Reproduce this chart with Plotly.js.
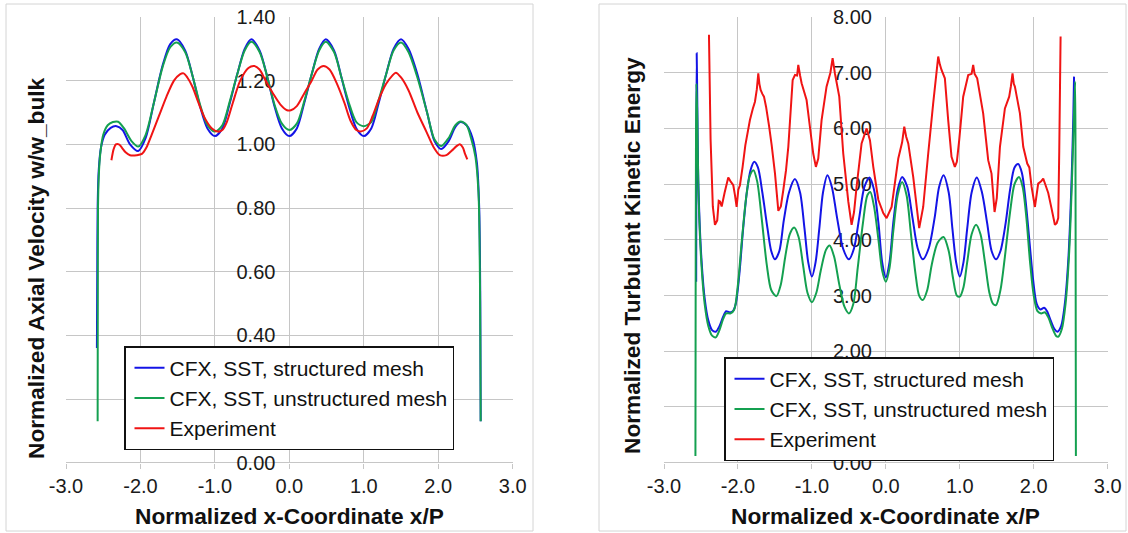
<!DOCTYPE html>
<html>
<head>
<meta charset="utf-8">
<script src="https://cdn.plot.ly/plotly-3.0.1.min.js"></script>
<style>
  html, body { margin: 0; padding: 0; background: #ffffff; }
  #chart { width: 1128px; height: 533px; }
</style>
</head>
<body>
<div id="chart"></div>
<script>
// ---------------- DATA ----------------
const seriesNames = ["CFX, SST, structured mesh", "CFX, SST, unstructured mesh", "Experiment"];

const xTickVals = [-3, -2, -1, 0, 1, 2, 3];
const xTickText = ["-3.0", "-2.0", "-1.0", "0.0", "1.0", "2.0", "3.0"];
// labels hidden behind the legend in the original are left blank
const velTickVals = [0, 0.2, 0.4, 0.6, 0.8, 1.0, 1.2, 1.4];
const velTickText = ["0.00", "", "0.40", "0.60", "0.80", "1.00", "1.20", "1.40"];
const tkeTickVals = [0, 1, 2, 3, 4, 5, 6, 7, 8];
const tkeTickText = ["0.00", "", "2.00", "3.00", "4.00", "5.00", "6.00", "7.00", "8.00"];

// Left chart: normalized axial velocity
const velStructX = [-2.585, -2.58, -2.575, -2.56, -2.53, -2.48, -2.40, -2.32, -2.24, -2.14, -2.03, -1.93, -1.82, -1.70, -1.60, -1.51, -1.40, -1.30, -1.20, -1.10, -1.00, -0.90, -0.80, -0.70, -0.60, -0.51, -0.40, -0.30, -0.20, -0.10, 0.00, 0.10, 0.20, 0.30, 0.40, 0.49, 0.60, 0.70, 0.80, 0.90, 1.00, 1.10, 1.20, 1.30, 1.40, 1.50, 1.60, 1.72, 1.85, 1.95, 2.04, 2.14, 2.23, 2.30, 2.38, 2.46, 2.52, 2.55, 2.565, 2.57];
const velStructY = [0.36, 0.60, 0.80, 0.92, 0.99, 1.03, 1.052, 1.057, 1.045, 1.00, 0.979, 1.02, 1.13, 1.25, 1.315, 1.33, 1.295, 1.215, 1.12, 1.05, 1.026, 1.05, 1.13, 1.22, 1.30, 1.33, 1.295, 1.215, 1.12, 1.05, 1.026, 1.05, 1.13, 1.22, 1.30, 1.33, 1.295, 1.21, 1.12, 1.05, 1.026, 1.05, 1.13, 1.22, 1.30, 1.33, 1.30, 1.22, 1.10, 1.01, 0.985, 1.01, 1.055, 1.07, 1.06, 1.02, 0.94, 0.80, 0.50, 0.13];

const velUnstrX = [-2.575, -2.573, -2.57, -2.56, -2.54, -2.50, -2.44, -2.37, -2.30, -2.22, -2.12, -2.03, -1.93, -1.82, -1.70, -1.60, -1.51, -1.40, -1.30, -1.20, -1.10, -1.00, -0.90, -0.80, -0.70, -0.60, -0.51, -0.40, -0.30, -0.20, -0.10, 0.00, 0.10, 0.20, 0.30, 0.40, 0.49, 0.60, 0.70, 0.80, 0.90, 1.00, 1.10, 1.20, 1.30, 1.40, 1.50, 1.60, 1.72, 1.85, 1.95, 2.04, 2.14, 2.23, 2.30, 2.38, 2.44, 2.50, 2.54, 2.555, 2.565, 2.57];
const velUnstrY = [0.13, 0.50, 0.80, 0.90, 0.97, 1.03, 1.06, 1.07, 1.071, 1.05, 1.01, 0.993, 1.03, 1.13, 1.245, 1.305, 1.32, 1.29, 1.215, 1.125, 1.06, 1.04, 1.06, 1.135, 1.22, 1.295, 1.322, 1.29, 1.215, 1.125, 1.065, 1.045, 1.065, 1.135, 1.22, 1.295, 1.322, 1.29, 1.21, 1.13, 1.07, 1.057, 1.07, 1.14, 1.22, 1.295, 1.32, 1.29, 1.21, 1.10, 1.015, 0.995, 1.02, 1.06, 1.072, 1.06, 1.02, 0.96, 0.85, 0.70, 0.40, 0.13];

const velExpX = [-2.39, -2.36, -2.33, -2.29, -2.25, -2.20, -2.14, -2.05, -1.98, -1.92, -1.85, -1.75, -1.65, -1.55, -1.47, -1.42, -1.37, -1.30, -1.22, -1.13, -1.04, -0.96, -0.90, -0.84, -0.76, -0.66, -0.55, -0.47, -0.40, -0.33, -0.22, -0.12, -0.03, 0.02, 0.10, 0.20, 0.30, 0.38, 0.46, 0.54, 0.64, 0.74, 0.82, 0.90, 0.96, 1.04, 1.12, 1.20, 1.30, 1.38, 1.43, 1.50, 1.60, 1.72, 1.84, 1.94, 2.02, 2.11, 2.18, 2.25, 2.29, 2.33, 2.36, 2.39];
const velExpY = [0.95, 0.985, 1.00, 1.00, 0.99, 0.975, 0.966, 0.966, 0.97, 0.99, 1.03, 1.09, 1.15, 1.20, 1.22, 1.223, 1.21, 1.18, 1.13, 1.08, 1.05, 1.04, 1.045, 1.07, 1.13, 1.20, 1.24, 1.246, 1.235, 1.205, 1.16, 1.125, 1.107, 1.107, 1.12, 1.16, 1.20, 1.235, 1.246, 1.235, 1.19, 1.13, 1.075, 1.045, 1.04, 1.05, 1.09, 1.14, 1.19, 1.215, 1.225, 1.21, 1.17, 1.10, 1.04, 0.99, 0.966, 0.966, 0.98, 0.995, 1.00, 0.99, 0.97, 0.953];

// Right chart: normalized turbulent kinetic energy
const tkeStructX = [-2.565, -2.562, -2.558, -2.55, -2.535, -2.50, -2.45, -2.40, -2.35, -2.30, -2.25, -2.20, -2.16, -2.12, -2.07, -2.03, -1.98, -1.93, -1.88, -1.83, -1.78, -1.73, -1.67, -1.60, -1.55, -1.50, -1.44, -1.38, -1.31, -1.23, -1.16, -1.10, -1.05, -1.00, -0.95, -0.90, -0.85, -0.79, -0.73, -0.66, -0.58, -0.50, -0.43, -0.36, -0.29, -0.22, -0.16, -0.10, -0.05, 0.00, 0.05, 0.10, 0.16, 0.22, 0.29, 0.36, 0.43, 0.50, 0.58, 0.66, 0.72, 0.78, 0.85, 0.90, 0.95, 1.00, 1.05, 1.10, 1.16, 1.23, 1.30, 1.37, 1.43, 1.49, 1.55, 1.62, 1.68, 1.74, 1.79, 1.84, 1.89, 1.94, 1.99, 2.04, 2.09, 2.14, 2.18, 2.23, 2.28, 2.32, 2.37, 2.42, 2.47, 2.51, 2.535, 2.545];
const tkeStructY = [3.25, 5.5, 7.35, 6.5, 5.0, 3.8, 2.95, 2.55, 2.38, 2.35, 2.45, 2.62, 2.72, 2.70, 2.72, 2.85, 3.4, 4.2, 4.85, 5.25, 5.40, 5.30, 4.85, 4.2, 3.8, 3.65, 3.8, 4.35, 4.85, 5.09, 4.85, 4.2, 3.6, 3.34, 3.6, 4.2, 4.85, 5.16, 4.95, 4.4, 3.85, 3.65, 3.85, 4.4, 4.95, 5.12, 4.9, 4.3, 3.6, 3.33, 3.6, 4.3, 4.9, 5.13, 4.95, 4.4, 3.85, 3.65, 3.85, 4.4, 4.95, 5.16, 4.85, 4.2, 3.6, 3.34, 3.6, 4.2, 4.85, 5.12, 4.85, 4.3, 3.8, 3.65, 3.8, 4.3, 4.9, 5.3, 5.36, 5.2, 4.7, 4.0, 3.3, 2.85, 2.75, 2.78, 2.72, 2.55, 2.40, 2.35, 2.45, 2.85, 3.7, 5.0, 6.2, 6.93];

const tkeUnstrX = [-2.575, -2.572, -2.568, -2.562, -2.55, -2.535, -2.50, -2.45, -2.40, -2.35, -2.30, -2.25, -2.20, -2.16, -2.10, -2.05, -2.00, -1.95, -1.89, -1.84, -1.79, -1.74, -1.68, -1.61, -1.55, -1.48, -1.42, -1.36, -1.30, -1.24, -1.18, -1.12, -1.06, -1.00, -0.94, -0.88, -0.81, -0.76, -0.70, -0.63, -0.56, -0.50, -0.44, -0.38, -0.31, -0.25, -0.21, -0.16, -0.10, -0.05, 0.00, 0.05, 0.10, 0.16, 0.22, 0.28, 0.34, 0.40, 0.45, 0.50, 0.56, 0.62, 0.70, 0.78, 0.85, 0.91, 0.96, 1.00, 1.05, 1.10, 1.16, 1.22, 1.28, 1.34, 1.40, 1.45, 1.49, 1.55, 1.61, 1.68, 1.74, 1.80, 1.85, 1.90, 1.95, 2.00, 2.05, 2.10, 2.15, 2.20, 2.25, 2.30, 2.33, 2.38, 2.43, 2.48, 2.52, 2.545, 2.56, 2.565, 2.568, 2.57];
const tkeUnstrY = [0.12, 3.0, 5.5, 6.8, 6.2, 4.9, 3.7, 2.85, 2.45, 2.28, 2.25, 2.38, 2.58, 2.68, 2.68, 2.75, 3.2, 3.95, 4.75, 5.15, 5.25, 5.05, 4.4, 3.55, 3.1, 2.99, 3.2, 3.7, 4.1, 4.22, 4.05, 3.55, 3.05, 2.88, 3.05, 3.45, 3.82, 3.9, 3.7, 3.2, 2.8, 2.68, 2.85, 3.5, 4.3, 4.8, 4.86, 4.6, 4.0, 3.45, 3.25, 3.5, 4.15, 4.8, 5.04, 4.8, 4.1, 3.4, 3.0, 2.92, 3.1, 3.55, 3.95, 4.05, 3.8, 3.3, 3.0, 2.98, 3.15, 3.6, 4.1, 4.27, 4.1, 3.6, 3.05, 2.85, 2.83, 3.1, 3.7, 4.5, 5.0, 5.13, 4.95, 4.4, 3.6, 3.0, 2.72, 2.68, 2.70, 2.60, 2.42, 2.28, 2.26, 2.4, 2.85, 3.8, 5.2, 6.3, 6.84, 5.0, 2.0, 0.12];

const tkeExpX = [-2.392, -2.37, -2.34, -2.311, -2.28, -2.26, -2.243, -2.22, -2.18, -2.131, -2.10, -2.063, -2.04, -2.018, -1.995, -1.973, -1.937, -1.90, -1.838, -1.80, -1.77, -1.745, -1.725, -1.71, -1.693, -1.67, -1.648, -1.62, -1.58, -1.544, -1.499, -1.454, -1.42, -1.387, -1.35, -1.319, -1.26, -1.229, -1.20, -1.184, -1.16, -1.139, -1.072, -1.027, -0.982, -0.946, -0.914, -0.869, -0.802, -0.75, -0.72, -0.689, -0.63, -0.576, -0.508, -0.463, -0.43, -0.396, -0.328, -0.26, -0.215, -0.17, -0.102, -0.035, 0.01, 0.078, 0.168, 0.22, 0.249, 0.275, 0.303, 0.37, 0.451, 0.505, 0.573, 0.64, 0.708, 0.73, 0.753, 0.798, 0.843, 0.888, 0.933, 0.96, 0.992, 1.046, 1.114, 1.16, 1.181, 1.20, 1.235, 1.316, 1.384, 1.429, 1.47, 1.50, 1.543, 1.61, 1.668, 1.69, 1.713, 1.73, 1.745, 1.813, 1.858, 1.912, 1.94, 1.971, 2.016, 2.06, 2.10, 2.128, 2.16, 2.196, 2.241, 2.286, 2.31, 2.331, 2.345, 2.363];
const tkeExpY = [7.68, 5.8, 4.6, 4.27, 4.35, 4.7, 4.69, 4.6, 4.85, 5.12, 5.05, 4.98, 4.8, 4.59, 4.9, 4.98, 5.31, 5.7, 6.15, 6.35, 6.48, 6.7, 6.99, 6.8, 6.69, 6.62, 6.57, 6.39, 6.05, 5.70, 5.19, 4.52, 4.6, 4.89, 5.25, 5.67, 6.87, 6.96, 6.95, 7.14, 6.95, 6.81, 6.51, 6.03, 5.55, 5.31, 5.46, 6.15, 6.75, 7.0, 7.26, 6.99, 6.57, 5.55, 4.69, 4.27, 4.5, 4.95, 5.73, 6.0, 5.79, 5.31, 4.72, 4.48, 4.39, 4.59, 5.46, 5.75, 6.03, 5.85, 5.73, 5.13, 4.21, 4.59, 5.55, 6.45, 7.29, 7.15, 7.05, 6.9, 6.15, 5.49, 5.31, 5.4, 5.79, 6.57, 6.96, 6.98, 7.14, 6.98, 6.9, 6.27, 5.43, 5.19, 4.5, 4.75, 5.67, 6.36, 6.57, 6.75, 6.99, 6.8, 6.75, 6.27, 5.67, 5.37, 5.3, 4.95, 4.59, 5.01, 5.05, 5.10, 4.98, 4.84, 4.56, 4.27, 4.3, 4.39, 5.6, 7.65];

// ---------------- STYLE ----------------
const FONT = "Liberation Sans, Arial, Helvetica, sans-serif";
const colStruct = "#1414e6";
const colUnstr = "#14a050";
const colExp = "#f01414";
const gridCol = "#c6c6c6";
const W = 1128, H = 533;
const px = v => v / W;
const py = v => 1 - v / H;

function line(x, y, name, color, legend, shape) {
  return {
    type: "scatter", mode: "lines", x: x, y: y, name: name,
    line: {color: color, width: 2, shape: shape || "linear", smoothing: 0.8, simplify: false},
    xaxis: legend === "legend" ? "x" : "x2",
    yaxis: legend === "legend" ? "y" : "y2",
    legend: legend, legendgroup: legend + name,
    hoverinfo: "skip"
  };
}

const traces = [
  line(velStructX, velStructY, seriesNames[0], colStruct, "legend", "spline"),
  line(velUnstrX, velUnstrY, seriesNames[1], colUnstr, "legend", "spline"),
  line(velExpX, velExpY, seriesNames[2], colExp, "legend", "spline"),
  line(tkeStructX, tkeStructY, seriesNames[0], colStruct, "legend2", "spline"),
  line(tkeUnstrX, tkeUnstrY, seriesNames[1], colUnstr, "legend2", "spline"),
  line(tkeExpX, tkeExpY, seriesNames[2], colExp, "legend2", "linear")
];

function xAxis(domain, anchor) {
  return {
    domain: domain, anchor: anchor, range: [-3, 3],
    tickmode: "array", tickvals: xTickVals, ticktext: xTickText,
    showgrid: true, gridcolor: gridCol, gridwidth: 1,
    zeroline: true, zerolinecolor: gridCol, zerolinewidth: 1,
    showline: false, ticks: "outside", ticklen: 5, tickcolor: gridCol,
    tickfont: {family: FONT, size: 20, color: "#1a1a1a"},
    layer: "below traces", fixedrange: true
  };
}
function yAxis(range, vals, text, pos) {
  return {
    domain: [py(462.7), py(17)], anchor: "free", position: pos, range: range,
    tickmode: "array", tickvals: vals, ticktext: text,
    showgrid: true, gridcolor: gridCol, gridwidth: 1,
    zeroline: true, zerolinecolor: gridCol, zerolinewidth: 1,
    showline: false, ticks: "", ticklabelstandoff: 14,
    tickfont: {family: FONT, size: 20, color: "#1a1a1a"},
    layer: "below traces", fixedrange: true
  };
}

const legendBase = {
  bgcolor: "#ffffff", bordercolor: "#111111", borderwidth: 1.5,
  font: {family: FONT, size: 21, color: "#111111"},
  xanchor: "left", yanchor: "top", traceorder: "grouped", tracegroupgap: 0,
  indentation: 4,
  itemclick: false, itemdoubleclick: false
};

const titleFont = {family: FONT, size: 22.7, color: "#111111"};

const layout = {
  width: W, height: H,
  margin: {l: 0, r: 0, t: 0, b: 0},
  paper_bgcolor: "#ffffff", plot_bgcolor: "#ffffff",
  showlegend: true,
  xaxis: xAxis([px(66), px(512.7)], "y"),
  yaxis: yAxis([0, 1.4], velTickVals, velTickText, px(289.4)),
  xaxis2: xAxis([px(664), px(1107.7)], "y2"),
  yaxis2: yAxis([0, 8], tkeTickVals, tkeTickText, px(885.9)),
  legend: Object.assign({}, legendBase, {x: px(124), y: py(346)}),
  legend2: Object.assign({}, legendBase, {x: px(724), y: py(357)}),
  annotations: [
    {text: "<b>Normalized x-Coordinate x/P</b>", xref: "paper", yref: "paper", x: px(289.4), y: py(516), xanchor: "center", yanchor: "middle", showarrow: false, font: titleFont},
    {text: "<b>Normalized x-Coordinate x/P</b>", xref: "paper", yref: "paper", x: px(885.9), y: py(516), xanchor: "center", yanchor: "middle", showarrow: false, font: titleFont},
    {text: "<b>Normalized Axial Velocity w/w_bulk</b>", xref: "paper", yref: "paper", x: px(36), y: py(268), xanchor: "center", yanchor: "middle", textangle: -90, showarrow: false, font: titleFont},
    {text: "<b>Normalized Turbulent Kinetic Energy</b>", xref: "paper", yref: "paper", x: px(632), y: py(256), xanchor: "center", yanchor: "middle", textangle: -90, showarrow: false, font: titleFont}
  ],
  shapes: [
    {type: "rect", xref: "paper", yref: "paper", x0: px(6), x1: px(533), y0: py(531), y1: py(4), line: {color: "#d4d4d4", width: 1}, layer: "below"},
    {type: "rect", xref: "paper", yref: "paper", x0: px(599), x1: px(1126), y0: py(531), y1: py(4), line: {color: "#d4d4d4", width: 1}, layer: "below"}
  ]
};

Plotly.newPlot("chart", traces, layout, {staticPlot: true, displayModeBar: false});
</script>
</body>
</html>
